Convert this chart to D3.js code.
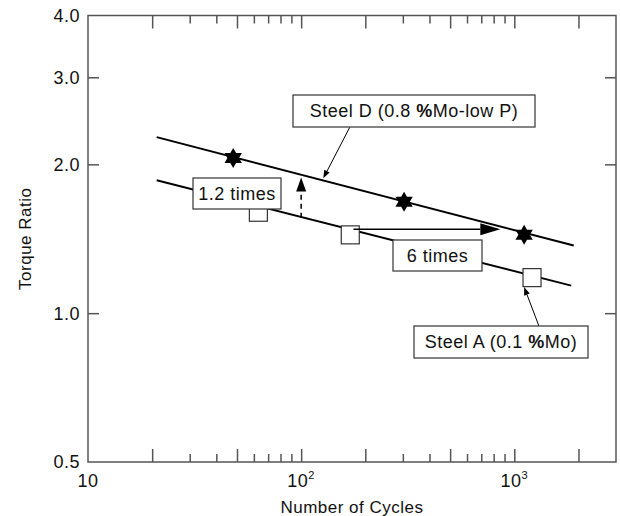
<!DOCTYPE html>
<html>
<head>
<meta charset="utf-8">
<script src="https://d3js.org/d3.v7.min.js"></script>
<style>
    body { margin: 0; background: #fff; }
    text { font-family: "Liberation Sans", Arial, sans-serif; fill: #111; letter-spacing: 0.5px; }
</style>
</head>
<body>
<div id="chart"></div>
<script>
const steelDCycles = [48, 304, 1112];
const steelDRatio = [2.06, 1.68, 1.44];
const steelACycles = [63, 170, 1211];
const steelARatio = [1.60, 1.44, 1.18];

// fitted lines, end points
const fitDCycles = [21, 1900];
const fitDRatio = [2.27, 1.37];
const fitACycles = [21, 1850];
const fitARatio = [1.857, 1.137];

// axis ticks
const yTickLabels = [0.5, 1.0, 2.0, 3.0, 4.0];
const xTickLabels = [10, 100, 1000];

const W = 620, H = 516;
const svg = d3.select('#chart').append('svg')
    .attr('width', W)
    .attr('height', H);

const x = d3.scaleLog().domain([10, 3000]).range([88, 616]);
const y = d3.scaleLog().domain([0.5, 4]).range([462, 15.5]);

const frameColor = '#555';
const fs = 18;

// ticks
const allX = x.ticks().filter(d => d > 10 && d < 3000);
const longX = allX.filter(d => [1, 2, 5].includes(Math.round(d / Math.pow(10, Math.floor(Math.log10(d) + 1e-9)))));
const shortX = allX.filter(d => !longX.includes(d));

function tickAxis(axis, vals, size, ty) {
    const g = svg.append('g')
        .attr('transform', 'translate(0,' + ty + ')')
        .call(axis.tickValues(vals).tickSize(size).tickFormat(''));
    g.select('.domain').remove();
    g.selectAll('line').attr('stroke', frameColor).attr('stroke-width', 1.5);
}
tickAxis(d3.axisBottom(x), longX, -13, 462);
tickAxis(d3.axisBottom(x), shortX, -8, 462);
tickAxis(d3.axisTop(x), longX, -13, 15.5);
tickAxis(d3.axisTop(x), shortX, -8, 15.5);

function yAxis(axis, tx) {
    const g = svg.append('g')
        .attr('transform', 'translate(' + tx + ',0)')
        .call(axis.tickValues([1, 2, 3]).tickSize(-11).tickFormat(''));
    g.select('.domain').remove();
    g.selectAll('line').attr('stroke', frameColor).attr('stroke-width', 1.5);
}
yAxis(d3.axisLeft(y), 88);
yAxis(d3.axisRight(y), 616);

// frame
svg.append('rect')
    .attr('x', x(10)).attr('y', y(4))
    .attr('width', x(3000) - x(10))
    .attr('height', y(0.5) - y(4))
    .attr('fill', 'none')
    .attr('stroke', frameColor)
    .attr('stroke-width', 1.5);

// y labels
svg.selectAll('.ylab')
    .data(yTickLabels)
    .enter()
    .append('text')
    .attr('class', 'ylab')
    .attr('x', 80)
    .attr('y', d => y(d))
    .attr('dy', '0.36em')
    .attr('text-anchor', 'end')
    .attr('font-size', fs)
    .text(d => d.toFixed(1));

// x labels
xTickLabels.forEach(function (d) {
    const e = Math.round(Math.log10(d));
    const t = svg.append('text')
        .attr('x', x(d))
        .attr('y', 487)
        .attr('text-anchor', 'middle')
        .attr('font-size', fs);
    t.append('tspan').text('10');
    if (e > 1) {
        t.append('tspan').attr('font-size', 11).attr('dy', -8).text(e);
    }
});

svg.append('text')
    .attr('x', (x(10) + x(3000)) / 2)
    .attr('y', 513)
    .attr('text-anchor', 'middle')
    .attr('font-size', 17)
    .text('Number of Cycles');

svg.append('text')
    .attr('transform', 'translate(31,' + (y(0.5) + y(4)) / 2 + ') rotate(-90)')
    .attr('text-anchor', 'middle')
    .attr('font-size', 17)
    .text('Torque Ratio');

// fitted lines
const line = d3.line().x(d => x(d[0])).y(d => y(d[1]));
[[fitDCycles, fitDRatio], [fitACycles, fitARatio]].forEach(function (s) {
    svg.append('path')
        .attr('d', line(d3.zip(s[0], s[1])))
        .attr('fill', 'none')
        .attr('stroke', '#000')
        .attr('stroke-width', 2);
});

// steel A squares
svg.selectAll('.sq')
    .data(d3.zip(steelACycles, steelARatio))
    .enter()
    .append('rect')
    .attr('class', 'sq')
    .attr('x', d => x(d[0]) - 9)
    .attr('y', d => y(d[1]) - 9)
    .attr('width', 18)
    .attr('height', 18)
    .attr('fill', '#fff')
    .attr('stroke', '#333')
    .attr('stroke-width', 1.2);

// steel D stars (hexagram)
function hexagram(R) {
    const r = R / Math.sqrt(3);
    const pts = [];
    for (let i = 0; i < 12; i++) {
        const a = -Math.PI / 2 + i * Math.PI / 6;
        const rr = i % 2 === 0 ? R : r;
        pts.push([rr * Math.cos(a), rr * Math.sin(a)]);
    }
    return 'M' + pts.map(p => p[0].toFixed(2) + ',' + p[1].toFixed(2)).join('L') + 'Z';
}
svg.selectAll('.star')
    .data(d3.zip(steelDCycles, steelDRatio))
    .enter()
    .append('path')
    .attr('class', 'star')
    .attr('d', hexagram(10))
    .attr('transform', d => 'translate(' + x(d[0]) + ',' + y(d[1]) + ')')
    .attr('fill', '#000');

// arrows
function arrow(x1, y1, x2, y2, len, hw, sw, dash) {
    const dx = x2 - x1, dy = y2 - y1;
    const L = Math.sqrt(dx * dx + dy * dy);
    const ux = dx / L, uy = dy / L;
    const bx = x2 - ux * len, by = y2 - uy * len;
    const l = svg.append('line')
        .attr('x1', x1).attr('y1', y1)
        .attr('x2', bx).attr('y2', by)
        .attr('stroke', '#000')
        .attr('stroke-width', sw);
    if (dash) l.attr('stroke-dasharray', dash);
    svg.append('path')
        .attr('d', 'M' + x2 + ',' + y2 +
            'L' + (bx - uy * hw) + ',' + (by + ux * hw) +
            'L' + (bx + uy * hw) + ',' + (by - ux * hw) + 'Z')
        .attr('fill', '#000');
}
// 1.2 times (vertical, dashed)
arrow(x(100), y(1.56), x(100), y(1.88), 14, 5, 1.5, '5,4');
// 6 times (horizontal)
arrow(x(176), y(1.478), x(860), y(1.478), 20, 6, 1.5);
// label arrows
arrow(x(169), y(2.376), x(127), y(1.874), 8, 3, 1);
arrow(x(1306), y(0.941), x(1112), y(1.129), 8, 3, 1);

// label boxes (centre in data coords, size in px)
function labelBox(cx, cy, w, h, parts) {
    const px = x(cx), py = y(cy);
    svg.append('rect')
        .attr('x', px - w / 2).attr('y', py - h / 2)
        .attr('width', w).attr('height', h)
        .attr('fill', '#fff')
        .attr('stroke', '#333')
        .attr('stroke-width', 1.2);
    const t = svg.append('text')
        .attr('x', px)
        .attr('y', py)
        .attr('dy', '0.36em')
        .attr('text-anchor', 'middle')
        .attr('font-size', fs);
    parts.forEach(function (p) {
        t.append('tspan').attr('font-weight', p[1] ? 'bold' : 'normal').text(p[0]);
    });
}
labelBox(x.invert(414), y.invert(111), 242, 32, [['Steel D (0.8 '], ['%', true], ['Mo-low P)']]);
labelBox(x.invert(237), y.invert(193.5), 88, 31, [['1.2 times']]);
labelBox(x.invert(437.5), y.invert(255.5), 89, 31, [['6 times']]);
labelBox(x.invert(501), y.invert(342), 174, 32, [['Steel A (0.1 '], ['%', true], ['Mo)']]);
</script>
</body>
</html>
